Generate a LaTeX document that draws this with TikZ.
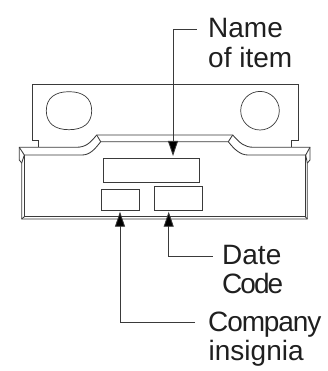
\documentclass[tikz,border=0pt]{standalone}
\usepackage{fontspec}
\setmainfont{Liberation Sans}
\usetikzlibrary{arrows.meta}
\definecolor{ink}{HTML}{3A3A3A}
\tikzset{
  part/.style={draw=ink,line width=0.85pt,line join=miter},
  fine/.style={draw=ink,line width=0.7pt},
  field/.style={draw=ink,line width=0.9pt,inner sep=0pt,anchor=north west,rectangle},
  lead/.style={draw=ink,line width=0.85pt},
  tip/.style={-{Triangle[length=15pt,width=10pt,fill=black]}},
  lbl/.style={anchor=base west,inner sep=0pt,font=\fontsize{28}{30}\selectfont,text=black!88}
}
\begin{document}
\begin{tikzpicture}[x=1pt,y=-1pt]
\useasboundingbox (0,0) rectangle (327,371);
% upper plate
\draw[part] (38.7,147.3) -- (38.7,140.7) -- (32,140.7) -- (32,84.7) -- (298,84.7) -- (298,140.7) -- (291.3,140.7) -- (291.3,147.3);
% holes
\draw[fine] (46.3,110.7) .. controls (46.3,98) and (55,91.7) .. (69,91.7)
  .. controls (83,91.7) and (91.7,98) .. (91.7,110.7)
  .. controls (91.7,123.4) and (83,129.7) .. (69,129.7)
  .. controls (55,129.7) and (46.3,123.4) .. (46.3,110.7) -- cycle;
\draw[fine] (260,110.7) circle[radius=19.3];
% lower body, outer outline
\draw[part] (96.7,135) .. controls (90,143) and (86,147.3) .. (76,147.3) -- (19.3,147.3)
  -- (19.3,160) -- (21.7,163) -- (21.7,219) -- (307.3,219) -- (307.3,163) -- (310,160) -- (310,147.3)
  -- (254,147.3) .. controls (244,147.3) and (240,143) .. (232.7,135) -- cycle;
% lower body, inner outline
\draw[part] (21.7,163) -- (24.3,155) -- (19.3,147.3);
\draw[part] (24.3,155) -- (82,155) .. controls (90,155) and (95,149) .. (100.7,141.7) -- (228.3,141.7)
  .. controls (234,149) and (240,155) .. (248,155) -- (305.7,155) -- (310,147.3);
\draw[part] (96.7,135) -- (100.7,141.7);
\draw[part] (232.7,135) -- (228.3,141.7);
\draw[part] (305.7,155) -- (307.3,163);
\draw[part] (24.3,155) -- (24.3,216.7) -- (305.2,216.7) -- (305.2,155);
\draw[part] (305.2,216.7) -- (307.3,219);
\draw[part] (24.3,216.7) -- (21.7,219);
% fields
\node[field,minimum width=96pt,minimum height=23.7pt] (itembox) at (103.3,158) {};
\node[field,minimum width=37.4pt,minimum height=20.7pt] (logobox) at (101.3,189.3) {};
\node[field,minimum width=48pt,minimum height=23.7pt] (datebox) at (154.3,186.3) {};
% labels
\node[lbl] (nametxt) at (208,38) {Name};
\node[lbl] (itemtxt) at (208,68) {of item};
\node[lbl] (datetxt) at (222,264) {Date};
\node[lbl] (codetxt) at (222,293) {\addfontfeatures{LetterSpace=-7}Code};
\node[lbl] (comptxt) at (208,331.5) {\addfontfeatures{LetterSpace=-4}Company};
\node[lbl] (instxt) at (208.5,360.5) {insignia};
% leader ends
\coordinate (nameend) at (196.7,29.5);
\coordinate (namebend) at (173,29.5);
\coordinate (nametip) at (173,156);
\coordinate (dateend) at (212.7,256.7);
\coordinate (datebend) at (168.7,256.7);
\coordinate (datetip) at (168.7,211.7);
\coordinate (compend) at (195,322);
\coordinate (compbend) at (120,322);
\coordinate (comptip) at (120,211.7);
\draw[lead,tip] (nameend) -- (namebend) -- (nametip);
\draw[lead,tip] (dateend) -- (datebend) -- (datetip);
\draw[lead,tip] (compend) -- (compbend) -- (comptip);
\end{tikzpicture}
\end{document}
